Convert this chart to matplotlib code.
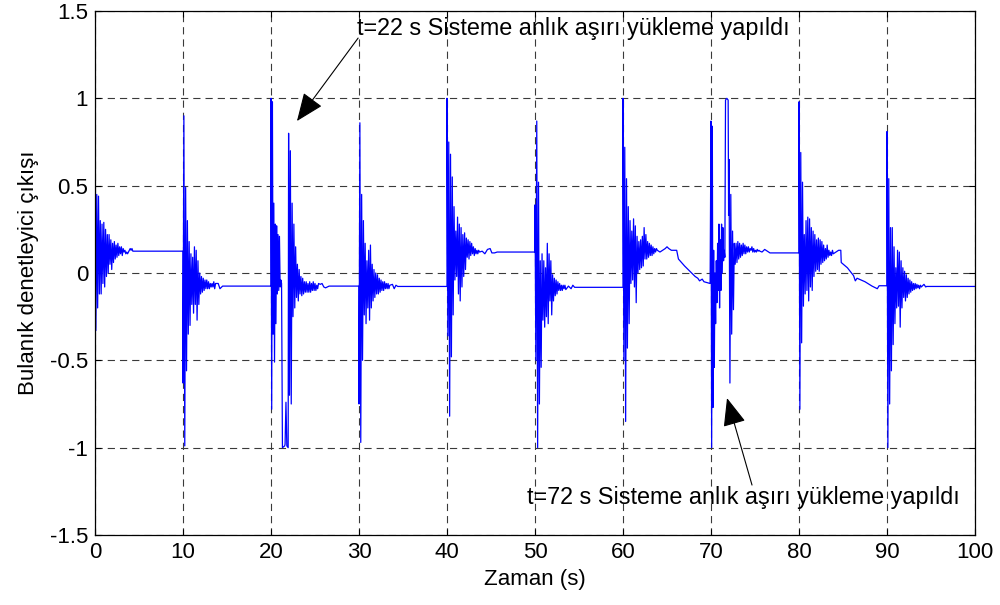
import numpy as np
import matplotlib
matplotlib.use("Agg")
import matplotlib.pyplot as plt
from matplotlib.patches import ArrowStyle

plt.rcParams['font.family'] = ['Liberation Sans', 'DejaVu Sans']

# ---------------------------------------------------------------------------
# Fuzzy controller output, one disturbance every 10 s plus two overloads
# ---------------------------------------------------------------------------
sample_dt = 0.1          # spacing of the recorded oscillation samples (s)

# oscillation after the step at t = 0 s (samples every sample_dt)
osc_00 = [0.55, -0.33, 0.45, -0.20, 0.44, -0.12, 0.30, -0.12, 0.28, -0.06,
          0.29, -0.08, 0.25, -0.02, 0.22, 0.00, 0.22, 0.05, 0.19, 0.02,
          0.17, 0.06, 0.18, 0.08, 0.16, 0.09, 0.17, 0.10, 0.15, 0.11,
          0.15, 0.10, 0.14, 0.12, 0.13, 0.11, 0.12, 0.11, 0.12, 0.13,
          0.14, 0.13]
tail_00_t = [4.2, 4.3, 10.0]
tail_00_v = [0.14, 0.125, 0.125]

osc_10 = [-0.63, 0.90, -0.99, 0.49, -0.56, 0.30, -0.35, 0.18, -0.30, 0.11,
          -0.18, 0.09, -0.23, 0.15, -0.18, 0.13, -0.27, 0.07, -0.18, 0.00,
          -0.12, -0.02, -0.11, -0.03, -0.10, -0.04, -0.09, -0.04, -0.09, -0.05,
          -0.09, -0.06, -0.08, -0.06, -0.08, -0.05, -0.09, -0.06]
tail_10_t = [14.0, 14.2, 14.4, 14.5, 20.0]
tail_10_v = [-0.06, -0.09, -0.08, -0.075, -0.075]

# step at 20 s, sampled a little faster, then the overload at 22 s
osc_20_dt = 0.08
osc_20 = [1.00, -0.78, 0.98, -0.35, 0.40, -0.51, 0.28, -0.29, 0.27, -0.12,
          0.22, -0.10, 0.21, -0.08, -0.04, -0.06]
tail_20_t = [21.3, 21.55, 21.6, 21.7, 21.8, 21.95, 22.0]
tail_20_v = [-1.00, -0.99, -0.98, -0.74, -0.99, -1.00, 0.80]

osc_22_start = 22.1
osc_22 = [-0.70, 0.70, -0.75, 0.40, -0.25, 0.28, -0.20, 0.15, -0.14, 0.05,
          -0.16, 0.02, -0.12, -0.02, -0.13, -0.03, -0.12, -0.05, -0.11, -0.05,
          -0.11, -0.06, -0.11, -0.05, -0.11, -0.06, -0.10, -0.05, -0.10, -0.06,
          -0.10, -0.07, -0.09, -0.06]
tail_22_t = [25.6, 25.8, 26.0, 26.2, 26.4, 26.6, 30.0]
tail_22_v = [-0.065, -0.06, -0.08, -0.085, -0.08, -0.075, -0.075]

osc_30 = [-0.75, 0.86, -0.97, 0.45, -0.50, 0.30, -0.24, 0.17, -0.29, 0.07,
          -0.20, 0.13, -0.27, 0.16, -0.20, 0.05, -0.16, 0.02, -0.14, 0.00,
          -0.12, -0.01, -0.12, -0.03, -0.11, -0.04, -0.10, -0.05, -0.10, -0.05,
          -0.09, -0.06, -0.09, -0.06, -0.09, -0.07]
tail_30_t = [33.8, 34.0, 34.2, 34.4, 40.0]
tail_30_v = [-0.065, -0.09, -0.07, -0.077, -0.077]

osc_40 = [1.00, -0.36, 0.75, -0.82, 0.68, -0.48, 0.55, -0.24, 0.38, -0.04,
          0.24, -0.02, 0.32, -0.12, 0.28, -0.16, 0.26, -0.08, 0.22, -0.02,
          0.23, 0.02, 0.20, 0.09, 0.19, 0.08, 0.18, 0.10, 0.17, 0.11,
          0.15, 0.10, 0.14, 0.11, 0.13, 0.11, 0.13, 0.12]
tail_40_t = [44.0, 44.3, 44.6, 44.9, 45.1, 45.4, 45.7, 50.0]
tail_40_v = [0.125, 0.11, 0.135, 0.14, 0.115, 0.115, 0.12, 0.12]

osc_50 = [0.39, -0.50, 0.87, -1.00, 0.52, -0.75, 0.07, -0.54, 0.11, -0.27,
          0.07, -0.31, 0.03, -0.25, 0.17, -0.29, 0.11, -0.16, 0.07, -0.24,
          -0.01, -0.16, -0.03, -0.13, -0.04, -0.12, -0.05, -0.10, -0.06, -0.10,
          -0.07, -0.10, -0.07, -0.09, -0.07, -0.095]
tail_50_t = [53.8, 54.1, 54.3, 54.5, 60.0]
tail_50_v = [-0.075, -0.09, -0.07, -0.082, -0.082]

osc_60 = [1.00, -0.50, 0.72, -0.85, 0.54, -0.43, 0.38, -0.29, 0.30, -0.06,
          0.24, -0.04, 0.31, -0.08, 0.27, -0.17, 0.21, 0.00, 0.18, 0.02,
          0.19, 0.03, 0.21, 0.04, 0.26, 0.08, 0.22, 0.08, 0.18, 0.09,
          0.17, 0.10, 0.16, 0.10, 0.15, 0.11, 0.14, 0.12, 0.14, 0.13]
tail_60_t = [64.2, 64.5, 64.8, 65.0, 65.2, 65.5, 66.1, 66.3, 67.0, 67.6,
             68.2, 68.5, 68.7, 69.0, 69.2, 69.9]
tail_60_v = [0.12, 0.13, 0.14, 0.15, 0.14, 0.13, 0.13, 0.08, 0.04, 0.01,
             -0.02, -0.03, -0.045, -0.035, -0.05, -0.06]

# step at 70 s, then the overload at 72 s
osc_70_dt = 0.075
osc_70 = [0.87, -1.00, 0.84, -0.77, 0.13, -0.54, 0.00, -0.29, 0.07, -0.17,
          0.17, -0.10, 0.28, -0.20, 0.19, -0.10, 0.28, 0.00, 0.26, 0.07,
          0.13, 0.09]
tail_70_t = [71.65, 71.8, 71.95, 72.0]
tail_70_v = [0.99, 1.00, 0.99, 0.33]

osc_72_start = 72.05
osc_72 = [0.65, -0.63, 0.45, -0.35, 0.24, -0.21, 0.17, 0.05, 0.17, 0.06,
          0.18, 0.08, 0.17, 0.09, 0.16, 0.10, 0.17, 0.11, 0.16, 0.11,
          0.15, 0.12, 0.15, 0.12, 0.14, 0.13, 0.15, 0.12, 0.14, 0.12,
          0.13, 0.12, 0.135, 0.125, 0.13, 0.125]
tail_72_t = [75.8, 76.1, 76.4, 76.7, 80.0]
tail_72_v = [0.12, 0.135, 0.125, 0.115, 0.115]

osc_80 = [0.98, -0.78, 0.69, -0.40, 0.52, -0.19, 0.22, -0.12, 0.30, -0.10,
          0.32, -0.16, 0.31, -0.08, 0.26, -0.10, 0.24, -0.02, 0.22, 0.01,
          0.19, 0.02, 0.20, 0.01, 0.19, 0.05, 0.18, 0.06, 0.16, 0.07,
          0.14, 0.08, 0.16, 0.09, 0.13, 0.10, 0.12, 0.10, 0.13, 0.11]
tail_80_t = [84.2, 84.5, 84.75, 84.8, 85.5, 86.2, 86.4, 86.6, 87.5, 88.3,
             88.9, 89.1, 90.0]
tail_80_v = [0.12, 0.13, 0.13, 0.06, 0.03, -0.015, -0.045, -0.03, -0.05, -0.075,
             -0.09, -0.073, -0.073]

osc_90 = [0.81, -1.00, 0.54, -0.75, 0.26, -0.56, 0.26, -0.41, 0.15, -0.29,
          0.03, -0.20, 0.13, -0.19, 0.12, -0.31, 0.07, -0.20, 0.03, -0.14,
          0.01, -0.16, -0.01, -0.14, -0.03, -0.12, -0.04, -0.11, -0.05, -0.10,
          -0.06, -0.095, -0.06, -0.09, -0.065, -0.085, -0.07, -0.09, -0.07, -0.08]
tail_90_t = [94.2, 94.4, 94.5, 100.0]
tail_90_v = [-0.065, -0.08, -0.077, -0.077]

# texts and arrow anchors (time in s, controller output)
note_22 = "t=22 s Sisteme anlık aşırı yükleme yapıldı"
note_72 = "t=72 s Sisteme anlık aşırı yükleme yapıldı"
note_22_xy, arrow_22_tip = (29.8, 1.40), (22.95, 0.87)
note_72_xy, arrow_72_tip = (49.1, -1.285), (71.82, -0.716)
arrow_22_tail = (29.9, 1.345)
arrow_72_tail = (74.66, -1.214)

xticks = np.arange(0, 101, 10)
yticks = [-1.5, -1, -0.5, 0, 0.5, 1, 1.5]
yticklabels = ["-1.5", "-1", "-0.5", "0", "0.5", "1", "1.5"]


def block(start, dt, vals):
    """Time stamps for evenly recorded samples."""
    return start + dt * np.arange(len(vals)), np.asarray(vals, float)


pieces = [
    block(0.0, sample_dt, osc_00), (tail_00_t, tail_00_v),
    block(10.0, sample_dt, osc_10), (tail_10_t, tail_10_v),
    block(20.0, osc_20_dt, osc_20), (tail_20_t, tail_20_v),
    block(osc_22_start, sample_dt, osc_22), (tail_22_t, tail_22_v),
    block(30.0, sample_dt, osc_30), (tail_30_t, tail_30_v),
    block(40.0, sample_dt, osc_40), (tail_40_t, tail_40_v),
    block(50.0, sample_dt, osc_50), (tail_50_t, tail_50_v),
    block(60.0, sample_dt, osc_60), (tail_60_t, tail_60_v),
    block(70.0, osc_70_dt, osc_70), (tail_70_t, tail_70_v),
    block(osc_72_start, sample_dt, osc_72), (tail_72_t, tail_72_v),
    block(80.0, sample_dt, osc_80), (tail_80_t, tail_80_v),
    block(90.0, sample_dt, osc_90), (tail_90_t, tail_90_v),
]
t = np.concatenate([np.asarray(p[0], float) for p in pieces])
u = np.concatenate([np.asarray(p[1], float) for p in pieces])

fig = plt.figure(figsize=(10.0, 6.05), dpi=100)
ax = fig.add_axes([0.095, 1 - 535 / 605, 0.88, 524 / 605])

ax.plot(t, u, color=(0, 0, 1), lw=0.9)

ax.set_xlim(0, 100)
ax.set_ylim(-1.5, 1.5)
ax.set_xticks(xticks)
ax.set_yticks(yticks)
ax.set_yticklabels(yticklabels)
ax.grid(True, color="#3a3a3a", linestyle=(0, (6.5, 4.5)), linewidth=0.8)
ax.tick_params(direction="in", length=4, width=0.8, top=True, right=True,
               labelsize=16, pad=5)
for s in ax.spines.values():
    s.set_linewidth(0.9)

ax.set_xlabel("Zaman (s)", fontsize=16, labelpad=4)
ax.set_ylabel("Bulanık denetleyici çıkışı", fontsize=16, labelpad=8)

head = ArrowStyle("-|>", head_length=1.1, head_width=0.45)
for txt, xy, tip, tail in [(note_22, note_22_xy, arrow_22_tip, arrow_22_tail),
                           (note_72, note_72_xy, arrow_72_tip, arrow_72_tail)]:
    ax.text(xy[0], xy[1], txt, fontsize=16.8, ha="left", va="center")
    ax.annotate("", xy=tip, xytext=tail,
                arrowprops=dict(arrowstyle=head, color="k", lw=0.8,
                                mutation_scale=16, shrinkA=0, shrinkB=0))

fig.savefig("out.png", dpi=100)
